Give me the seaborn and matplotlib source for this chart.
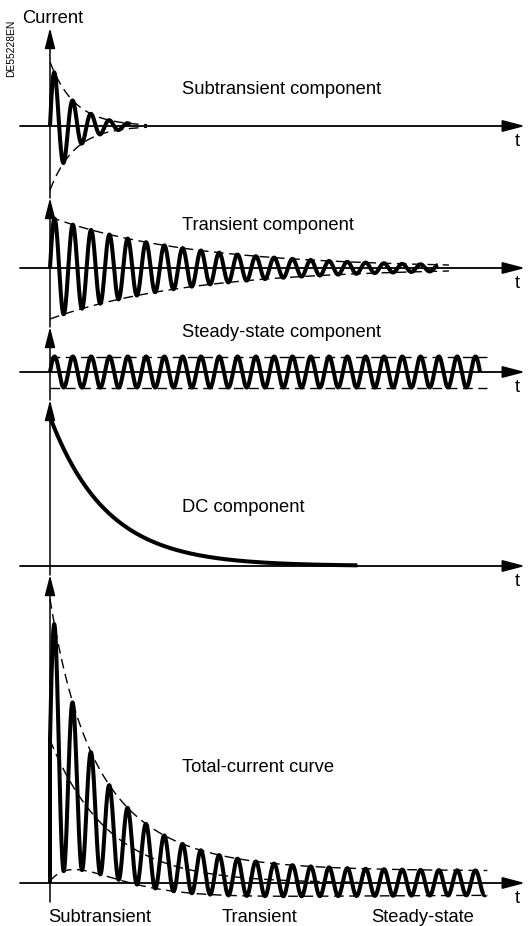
import numpy as np
import pandas as pd
import matplotlib
matplotlib.use("Agg")
import matplotlib.pyplot as plt
import seaborn as sns
from matplotlib.patches import FancyArrowPatch, ArrowStyle

sns.set_theme(style="white")
plt.rcParams['font.family'] = ['Liberation Sans', 'DejaVu Sans']
plt.rcParams['text.color'] = 'black'

# ---------------- data ----------------
# time is measured in cycles of the network frequency, amplitudes in picture units
panel_labels = ["Subtransient component", "Transient component",
                "Steady-state component", "DC component", "Total-current curve"]
bottom_labels = ["Subtransient", "Transient", "Steady-state"]
axis_title = "Current"
axis_t = "t"
doc_code = "DE55228EN"

phase = 0.25                 # first crest position (cycles)
sub_amp, sub_tau = 64.0, 1.35
sub_curve_end, sub_env_end = 4.4, 5.3
trans_amp, trans_tau = 51.0, 7.7
trans_curve_end, trans_env_end = 21.2, 21.8
steady_amp = 15.5
steady_curve_end, steady_env_end = 23.5, 23.9
dc_amp, dc_tau, dc_end = 149.0, 3.1, 16.8

total_dc_amp, total_dc_tau, total_dc_end = 143.0, 3.2, 16.8
total_sub_amp, total_sub_tau = 79.0, 1.4
total_trans_amp, total_trans_tau = 50.0, 5.0
total_steady_amp = 12.0
total_curve_end, total_env_end = 23.8, 23.9

# ---------------- layout (pixels) ----------------
W, H = 528, 926
X0 = 50.0           # pixel of t = 0
PXC = 18.3          # pixels per cycle
tops = [28, 198, 327, 400, 575]
bases = [126, 268, 372, 566, 883]
bottoms = [198, 327, 400, 575, 902]

fig = plt.figure(figsize=(W / 100, H / 100), dpi=100)
fig.patch.set_facecolor("white")

def fx(px):
    return px / W

def fy(py):
    return 1 - py / H

def tpx(px):
    return (px - X0) / PXC

axes = []
for top, base, bot in zip(tops, bases, bottoms):
    ax = fig.add_axes([0, 1 - bot / H, 1, (bot - top) / H])
    ax.set_xlim(tpx(0), tpx(W))
    ax.set_ylim(-(bot - base), base - top)
    ax.axis("off")
    ax.patch.set_visible(False)
    axes.append(ax)

THICK = 2.9
THIN = 1.0
DASH = (0, (7, 4))

def curve(ax, t, y, dashed=False):
    df = pd.DataFrame({"t": t, "y": y})
    if dashed:
        sns.lineplot(data=df, x="t", y="y", ax=ax, color="black", lw=THIN,
                     linestyle=DASH, estimator=None, sort=False, zorder=3)
    else:
        sns.lineplot(data=df, x="t", y="y", ax=ax, color="black", lw=THICK,
                     estimator=None, sort=False, zorder=4,
                     solid_joinstyle="round", solid_capstyle="butt")

def grid(end, n=80):
    return np.linspace(0, end, int(end * n) + 1)

def wave(t):
    return np.cos(2 * np.pi * (t - phase))

def with_start(t, y):
    return np.concatenate([[0.0], t]), np.concatenate([[0.0], y])

# axes arrows
for ax in axes:
    y0, y1 = ax.get_ylim()
    ax.add_patch(FancyArrowPatch((tpx(20), 0), (tpx(525), 0),
                                 arrowstyle=ArrowStyle("-|>", head_length=1.37, head_width=0.36),
                                 mutation_scale=10, lw=1.3, color="black",
                                 shrinkA=0, shrinkB=0, zorder=2, clip_on=False))
    ax.add_patch(FancyArrowPatch((0, y0), (0, y1),
                                 arrowstyle=ArrowStyle("-|>", head_length=1.25, head_width=0.32),
                                 mutation_scale=10, lw=1.1, color="black",
                                 shrinkA=0, shrinkB=0, zorder=2, clip_on=False))

# 1 - subtransient
ax = axes[0]
t = grid(sub_curve_end)
curve(ax, *with_start(t, sub_amp * np.exp(-t / sub_tau) * wave(t)))
te = grid(sub_env_end)
curve(ax, te, sub_amp * np.exp(-te / sub_tau), dashed=True)
curve(ax, te, -sub_amp * np.exp(-te / sub_tau), dashed=True)

# 2 - transient
ax = axes[1]
t = grid(trans_curve_end)
curve(ax, *with_start(t, trans_amp * np.exp(-t / trans_tau) * wave(t)))
te = grid(trans_env_end)
curve(ax, te, trans_amp * np.exp(-te / trans_tau), dashed=True)
curve(ax, te, -trans_amp * np.exp(-te / trans_tau), dashed=True)

# 3 - steady state
ax = axes[2]
t = grid(steady_curve_end)
curve(ax, *with_start(t, steady_amp * wave(t)))
te = grid(steady_env_end, 4)
curve(ax, te, np.full_like(te, steady_amp), dashed=True)
curve(ax, te, np.full_like(te, -steady_amp), dashed=True)

# 4 - DC
ax = axes[3]
t = grid(dc_end)
curve(ax, t, dc_amp * np.exp(-t / dc_tau))

# 5 - total
ax = axes[4]
def total_ac(t):
    return (total_sub_amp * np.exp(-t / total_sub_tau)
            + total_trans_amp * np.exp(-t / total_trans_tau)
            + total_steady_amp)
def total_dc(t):
    return total_dc_amp * np.exp(-t / total_dc_tau)
t = grid(total_curve_end)
curve(ax, *with_start(t, total_dc(t) + total_ac(t) * wave(t)))
te = grid(total_env_end)
curve(ax, te, total_dc(te) + total_ac(te), dashed=True)
curve(ax, te, total_dc(te) - total_ac(te), dashed=True)
td = grid(total_dc_end)
curve(ax, td, total_dc(td), dashed=True)

# ---------------- texts ----------------
FS = 13.2
fig.text(fx(22), fy(23), axis_title, fontsize=FS, ha="left", va="baseline", color="black")
fig.text(fx(11), fy(48), doc_code, fontsize=7.4, rotation=90, ha="center", va="center", color="black")
label_baselines = [94, 230, 337, 512, 772]
for lab, yb in zip(panel_labels, label_baselines):
    fig.text(fx(182), fy(yb), lab, fontsize=FS, ha="left", va="baseline", color="black")
for base in bases:
    fig.text(fx(517), fy(base + 20), axis_t, fontsize=FS, ha="center", va="baseline", color="black")
for lab, xc in zip(bottom_labels, [100, 260, 423]):
    fig.text(fx(xc), fy(922), lab, fontsize=FS, ha="center", va="baseline", color="black")

fig.savefig("out.png", dpi=100, facecolor="white")
